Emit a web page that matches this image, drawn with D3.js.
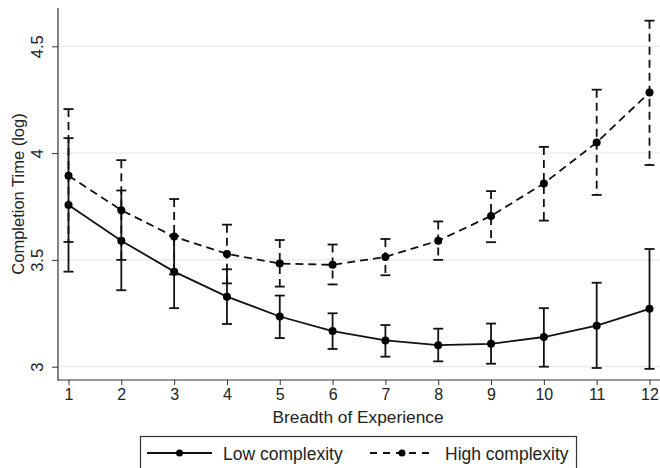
<!DOCTYPE html>
<html>
<head>
<meta charset="utf-8">
<script src="https://cdn.jsdelivr.net/npm/d3@7"></script>
<style>
  html, body { margin: 0; padding: 0; background: #fff; }
  svg { display: block; font-family: "Liberation Sans", Arial, Helvetica, sans-serif; }
</style>
</head>
<body>
<svg id="chart" width="660" height="468"></svg>
<script>
const breadth = [1, 2, 3, 4, 5, 6, 7, 8, 9, 10, 11, 12];
const lowMean  = [3.757, 3.590, 3.445, 3.328, 3.235, 3.167, 3.123, 3.101, 3.107, 3.139, 3.192, 3.271];
const lowUpper = [4.070, 3.825, 3.612, 3.456, 3.333, 3.250, 3.195, 3.178, 3.202, 3.274, 3.393, 3.551];
const lowLower = [3.445, 3.358, 3.274, 3.200, 3.134, 3.083, 3.047, 3.025, 3.014, 3.000, 2.994, 2.990];
const highMean  = [3.894, 3.733, 3.609, 3.528, 3.483, 3.477, 3.514, 3.590, 3.706, 3.858, 4.050, 4.284];
const highUpper = [4.206, 3.967, 3.785, 3.665, 3.593, 3.572, 3.598, 3.680, 3.822, 4.029, 4.297, 4.620];
const highLower = [3.584, 3.500, 3.432, 3.390, 3.375, 3.385, 3.428, 3.500, 3.583, 3.684, 3.804, 3.944];
const yTicks = [3, 3.5, 4, 4.5];
const seriesNames = ["Low complexity", "High complexity"];

const svg = d3.select("#chart");
const x = d3.scaleLinear().domain([1, 12]).range([68.5, 649.5]);
const y = d3.scaleLinear().domain([3, 4.5]).range([366.7, 46.3]);

// gridlines
svg.append("g").selectAll("line").data(yTicks).join("line")
  .attr("x1", 58).attr("x2", 660)
  .attr("y1", d => y(d)).attr("y2", d => y(d))
  .attr("stroke", "#e4e4e4").attr("stroke-width", 1);

// y axis
const yAxis = svg.append("g").attr("transform", "translate(58,0)")
  .call(d3.axisLeft(y).tickValues(yTicks).tickSize(6).tickSizeOuter(0).tickFormat(d3.format("")));
yAxis.select(".domain").remove();
yAxis.selectAll(".tick line").attr("stroke", "#333");
yAxis.selectAll(".tick text")
  .attr("font-size", 16.5).attr("fill", "#222")
  .attr("transform", "rotate(-90)")
  .attr("x", 0).attr("y", -20)
  .attr("dy", "0.32em")
  .attr("text-anchor", "middle");
svg.append("line").attr("x1", 58).attr("x2", 58).attr("y1", 8).attr("y2", 380.5)
  .attr("stroke", "#333").attr("stroke-width", 1.2);

// x axis
const xAxis = svg.append("g").attr("transform", "translate(0,380)")
  .call(d3.axisBottom(x).tickValues(breadth).tickSize(5).tickSizeOuter(0).tickFormat(d3.format("d")));
xAxis.select(".domain").remove();
xAxis.selectAll(".tick line").attr("stroke", "#333");
xAxis.selectAll(".tick text").attr("font-size", 16).attr("fill", "#222").attr("y", 9);
svg.append("line").attr("x1", 57.5).attr("x2", 660).attr("y1", 380).attr("y2", 380)
  .attr("stroke", "#333").attr("stroke-width", 1.2);

// axis titles
svg.append("text").attr("x", 358).attr("y", 423).attr("text-anchor", "middle")
  .attr("font-size", 17.3).attr("fill", "#222").text("Breadth of Experience");
svg.append("text").attr("transform", "translate(24,194) rotate(-90)")
  .attr("text-anchor", "middle").attr("font-size", 16.5).attr("fill", "#222")
  .text("Completion Time (log)");

const series = [
  {name: seriesNames[0], mean: lowMean, up: lowUpper, lo: lowLower, dash: null},
  {name: seriesNames[1], mean: highMean, up: highUpper, lo: highLower, dash: "8,5"}
];
const line = d3.line().x((d, i) => x(breadth[i])).y(d => y(d));
const capW = 5;

series.forEach(s => {
  const g = svg.append("g");
  const eb = g.selectAll("g.eb").data(breadth).join("g");
  eb.append("line")
    .attr("x1", d => x(d)).attr("x2", d => x(d))
    .attr("y1", (d, i) => y(s.up[i])).attr("y2", (d, i) => y(s.lo[i]))
    .attr("stroke", "#111").attr("stroke-width", 1.8)
    .attr("stroke-dasharray", s.dash);
  [s.up, s.lo].forEach(arr => {
    eb.append("line")
      .attr("x1", d => x(d) - capW).attr("x2", d => x(d) + capW)
      .attr("y1", (d, i) => y(arr[i])).attr("y2", (d, i) => y(arr[i]))
      .attr("stroke", "#111").attr("stroke-width", 1.8);
  });
  g.append("path").datum(s.mean).attr("d", line)
    .attr("fill", "none").attr("stroke", "#111").attr("stroke-width", 1.8)
    .attr("stroke-dasharray", s.dash);
  g.selectAll("circle").data(s.mean).join("circle")
    .attr("cx", (d, i) => x(breadth[i])).attr("cy", d => y(d)).attr("r", 4)
    .attr("fill", "#000");
});

// legend
const lg = svg.append("g");
lg.append("rect").attr("x", 140.5).attr("y", 436.5).attr("width", 436).attr("height", 40)
  .attr("fill", "#fff").attr("stroke", "#333").attr("stroke-width", 1.2);
const legendItems = [
  {name: seriesNames[0], x0: 147, x1: 212, tx: 223, dash: null},
  {name: seriesNames[1], x0: 370, x1: 434, tx: 445, dash: "7,6"}
];
legendItems.forEach(it => {
  lg.append("line").attr("x1", it.x0).attr("x2", it.x1).attr("y1", 453).attr("y2", 453)
    .attr("stroke", "#111").attr("stroke-width", 1.8).attr("stroke-dasharray", it.dash);
  lg.append("circle").attr("cx", (it.x0 + it.x1) / 2).attr("cy", 453).attr("r", 3.5).attr("fill", "#000");
  lg.append("text").attr("x", it.tx).attr("y", 459.5).attr("font-size", 17.5).attr("fill", "#222").text(it.name);
});
</script>
</body>
</html>
